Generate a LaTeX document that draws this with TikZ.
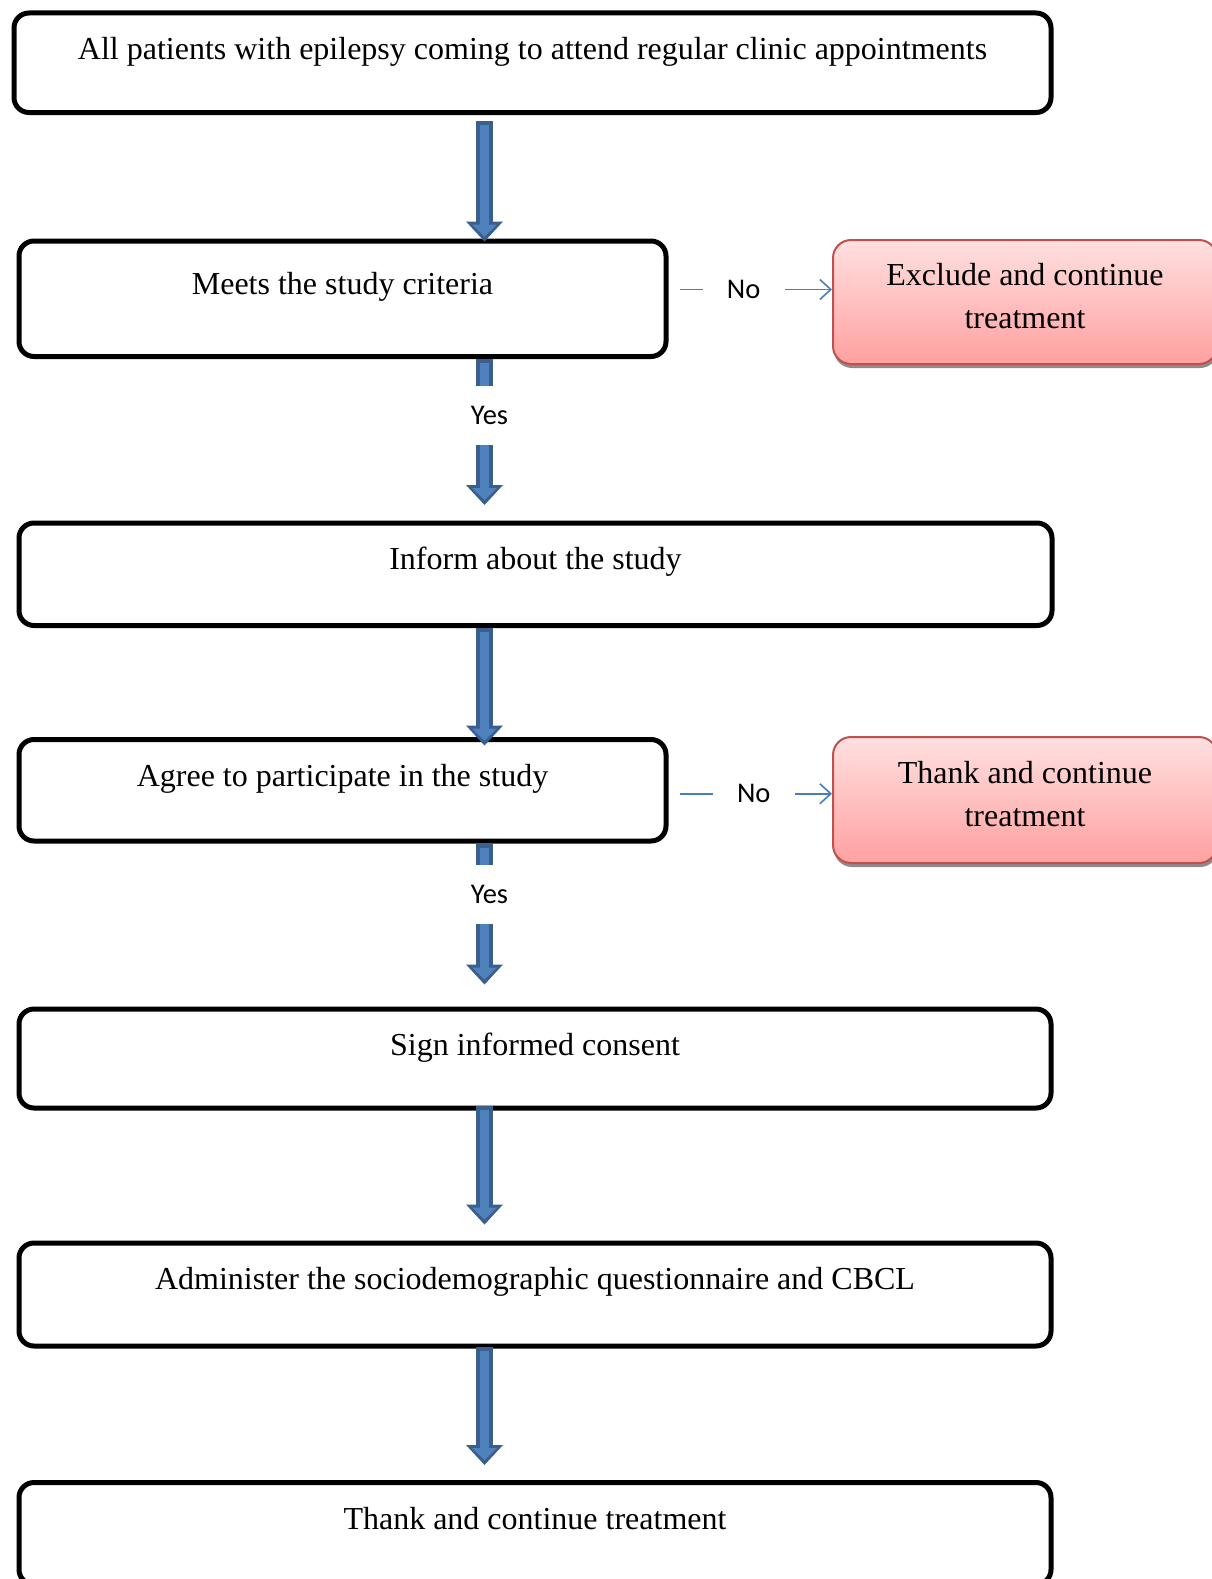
\documentclass[tikz,border=0pt]{standalone}
\usepackage{fontspec}
\setmainfont{Liberation Serif}
\newfontfamily\calibri{Carlito}
\usetikzlibrary{arrows.meta,shadows}
\usepackage{xcolor}
\definecolor{arrowedge}{HTML}{3A5F8E}
\definecolor{arrowfill}{HTML}{4F81BD}
\definecolor{exitred}{HTML}{C0504D}
\definecolor{exittop}{HTML}{FFE0E0}
\definecolor{exitbot}{HTML}{FFA0A0}
\definecolor{noblue}{HTML}{4A7EBB}

\begin{document}
\begin{tikzpicture}[x=1pt,y=-1pt,
    flowbox/.style={draw, line width=5pt, rounded corners=15pt, inner sep=0pt,
      anchor=north west, text height=46.5pt, font=\fontsize{32}{38}\selectfont},
    exitbox/.style={draw=exitred, line width=2pt, rounded corners=18pt,
      top color=exittop, bottom color=exitbot, align=center, inner sep=0pt,
      minimum width=384pt, text depth=13pt, font=\fontsize{32}{43}\selectfont,
      drop shadow={shadow xshift=1pt, shadow yshift=-4pt, fill=black!45, opacity=1}},
    bigarrow/.style 2 args={draw=arrowedge, line width=17pt, shorten <=#1, shorten >=#2,
      -{Triangle[width=37pt,length=20pt,line width=0pt]},
      postaction={draw=arrowfill, line width=9pt, shorten <=#1+4pt, shorten >=#2+5pt,
        -{Triangle[width=25pt,length=12pt,line width=0pt]}}},
    yeslabel/.style={fill=white, inner sep=0pt, minimum height=59pt, minimum width=44pt,
      font=\calibri\fontsize{28.5}{34}\selectfont},
    noarrow/.style={draw=noblue, line width=1.6pt, -{Straight Barb[length=11pt,width=20pt]}},
    nolabel/.style={fill=white, inner sep=0pt, minimum width=82pt, minimum height=30pt,
      font=\calibri\fontsize{28.5}{34}\selectfont}]
  \path[use as bounding box] (0,0) rectangle (1212,1579);%
  \clip (0,0) rectangle (1212,1579);%
  \node[flowbox, minimum width=1037pt, text depth=53pt] (allpat) at (11.5,10.5)
    {All patients with epilepsy coming to attend regular clinic appointments};%
  \node[flowbox, minimum width=647pt, text height=53.5pt, text depth=62pt] (crit) at (16.5,238.5)
    {Meets the study criteria};%
  \node[exitbox, minimum height=124pt] (excl) at (1025,302) {Exclude and continue\\treatment};%
  \node[flowbox, minimum width=1033pt, text depth=56pt] (inform) at (16.5,520.5)
    {Inform about the study};%
  \node[flowbox, minimum width=647pt, text depth=55pt] (agree) at (16.5,737)
    {Agree to participate in the study};%
  \node[exitbox, minimum height=126pt] (thanks) at (1025,800) {Thank and continue\\treatment};%
  \node[flowbox, minimum width=1032pt, text depth=52.5pt] (consent) at (16.5,1006.5)
    {Sign informed consent};%
  \node[flowbox, minimum width=1032pt, text depth=56.5pt] (admin) at (16.5,1240.5)
    {Administer the sociodemographic questionnaire and CBCL};%
  \node[flowbox, minimum width=1032pt, text height=47pt, text depth=55pt] (thank) at (16.5,1480)
    {Thank and continue treatment};%
  \coordinate (axis) at (484.5,0);%
  \draw[bigarrow={6pt}{-3pt}] (allpat.south -| axis) -- (crit.north -| axis);%
  \draw[bigarrow={0pt}{15.5pt}] (crit.south -| axis) -- node[yeslabel, pos=0.347, xshift=5pt] {Yes} (inform.north -| axis);%
  \draw[bigarrow={0pt}{-8.5pt}] (inform.south -| axis) -- (agree.north -| axis);%
  \draw[bigarrow={0pt}{22pt}] (agree.south -| axis) -- node[yeslabel, pos=0.315, xshift=5pt] {Yes} (consent.north -| axis);%
  \draw[bigarrow={-5pt}{16pt}] (consent.south -| axis) -- (admin.north -| axis);%
  \draw[bigarrow={-2pt}{15pt}] (admin.south -| axis) -- (thank.north -| axis);%
  \coordinate (noA) at ([xshift=11pt,yshift=9.25pt]crit.east);%
  \coordinate (noB) at ([xshift=11pt,yshift=-3.5pt]agree.east);%
  \draw[noarrow] (noA) -- node[nolabel, pos=0.42] {No} (excl.west |- noA);%
  \draw[noarrow] (noB) -- node[nolabel, pos=0.5, xshift=-2pt] {No} (thanks.west |- noB);%
\end{tikzpicture}
\end{document}
